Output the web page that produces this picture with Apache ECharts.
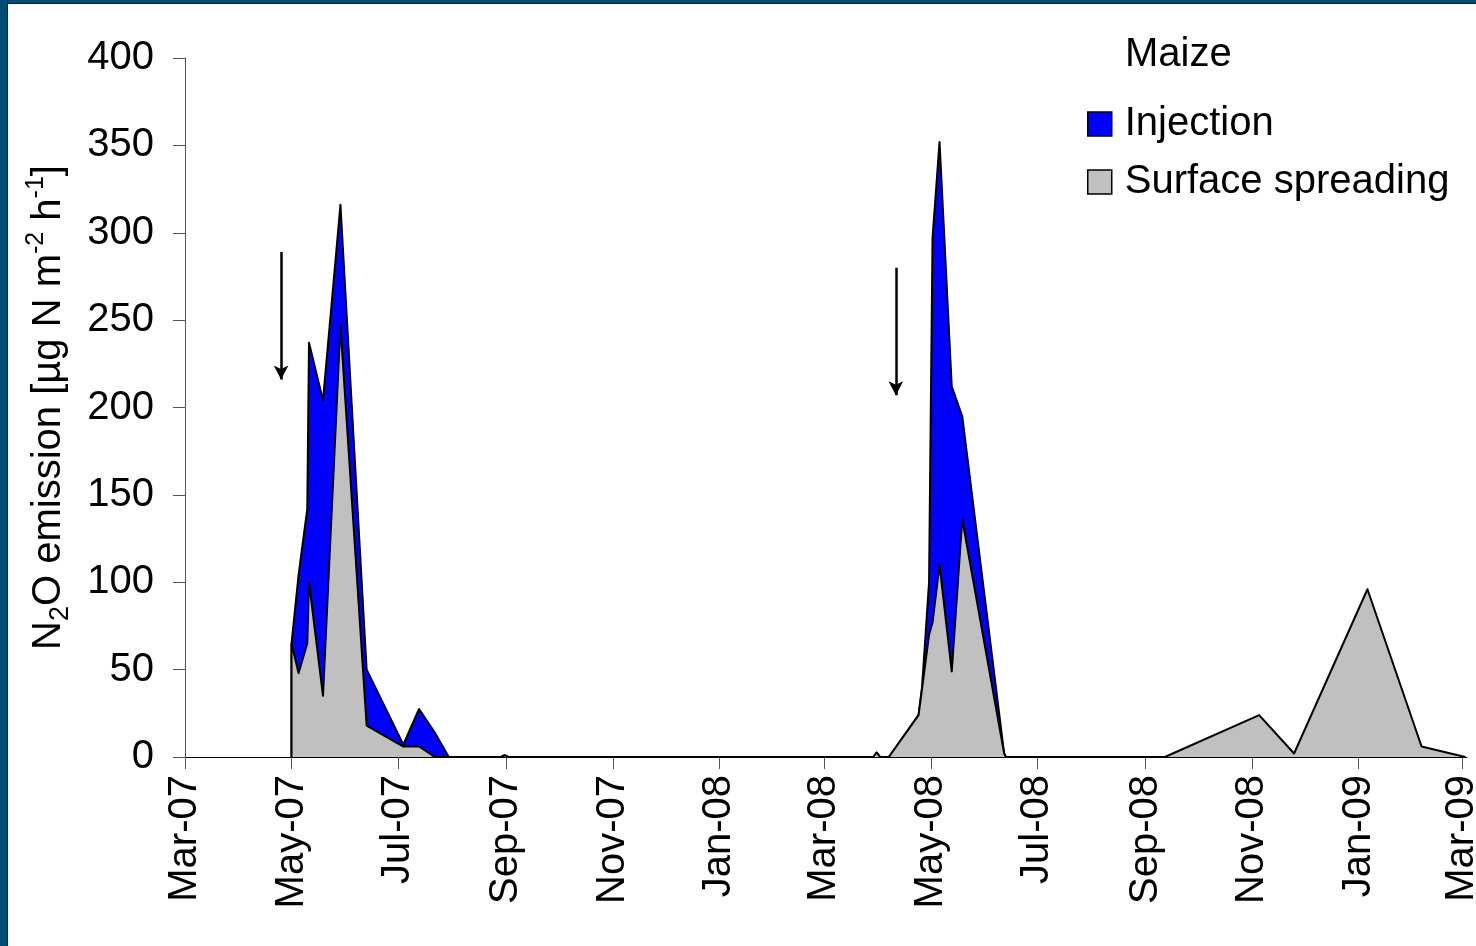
<!DOCTYPE html>
<html><head><meta charset="utf-8">
<script src="https://cdn.jsdelivr.net/npm/echarts@6/dist/echarts.min.js"></script>
<style>
html,body{margin:0;padding:0;background:#fff;overflow:hidden;}
#chart{position:absolute;left:0;top:0;width:1476px;height:946px;}
#bl{position:absolute;left:0;top:0;width:7px;height:946px;background:#004b78;border-right:1px solid #10222f;}
#bt{position:absolute;left:0;top:0;width:1476px;height:3px;background:#004b78;border-bottom:1px solid #10222f;}
</style></head><body>
<div id="chart"></div><div id="bt"></div><div id="bl"></div>
<script>
const tickDates = ['2007-03-01','2007-05-01','2007-07-01','2007-09-01','2007-11-01','2008-01-01','2008-03-01','2008-05-01','2008-07-01','2008-09-01','2008-11-01','2009-01-01','2009-03-01'];
const tickLabels = ['Mar-07','May-07','Jul-07','Sep-07','Nov-07','Jan-08','Mar-08','May-08','Jul-08','Sep-08','Nov-08','Jan-09','Mar-09'];
const yTicks = [0,50,100,150,200,250,300,350,400];

const injectionDates = ['2007-05-01','2007-05-01','2007-05-05','2007-05-10','2007-05-11','2007-05-19','2007-05-29','2007-06-13','2007-07-04','2007-07-13','2007-07-22','2007-07-30','2007-08-29','2007-08-31','2007-09-02','2007-11-28','2007-11-29','2007-11-30','2008-03-29','2008-03-31','2008-04-02','2008-04-07','2008-04-24','2008-04-26','2008-04-30','2008-05-02','2008-05-06','2008-05-13','2008-05-19','2008-06-12','2008-06-13','2009-03-03'];
const injectionValues = [0,65,104,142,237,204,316,50,7,27.5,14,0,0,1,0,0,0.4,0,0,2.5,0,0,24,40,100,297,352,212,195,2,0,0];

const surfaceDates = ['2007-05-01','2007-05-01','2007-05-05','2007-05-10','2007-05-11','2007-05-19','2007-05-29','2007-06-13','2007-07-04','2007-07-13','2007-07-22','2007-07-30','2007-08-29','2007-08-31','2007-09-02','2007-11-28','2007-11-29','2007-11-30','2008-03-29','2008-03-31','2008-04-02','2008-04-07','2008-04-24','2008-04-26','2008-04-30','2008-05-02','2008-05-06','2008-05-13','2008-05-19','2008-06-12','2008-06-13','2008-09-12','2008-11-05','2008-11-25','2009-01-06','2009-02-06','2009-03-03'];
const surfaceValues = [0,65,48,65,100,35,247,18,6,6,0,0,0,1,0,0,0.4,0,0,2.5,0,0,24,39,70,77,110,49,136,2,0,0,24,2,96,6,0];

const arrowDates = ['2007-04-25','2008-04-11'];
const arrowTops = [289,280];
const arrowTips = [216,207];

function ts(s){const p=s.split('-').map(Number);return Date.UTC(p[0],p[1]-1,p[2]);}
const tickTimes = tickDates.map(ts);
const FONT = "'Liberation Sans', Arial, sans-serif";

const chart = echarts.init(document.getElementById('chart'), null, {renderer:'canvas'});
chart.setOption({
  animation:false,
  backgroundColor:'#ffffff',
  textStyle:{fontFamily:FONT},
  title:{text:'Maize',left:1120,top:30,textStyle:{fontFamily:FONT,fontSize:40,fontWeight:'normal',color:'#000',lineHeight:40}},
  legend:{
    orient:'vertical',left:1087,top:104,padding:0,itemWidth:24,itemHeight:24,itemGap:18,icon:'rect',
    textStyle:{fontFamily:FONT,fontSize:40,color:'#000',lineHeight:40,padding:[0,0,0,8]},
    data:[
      {name:'Injection',itemStyle:{color:'#0000ff',borderColor:'#000',borderWidth:1.5}},
      {name:'Surface spreading',itemStyle:{color:'#c0c0c0',borderColor:'#000',borderWidth:1.5}}
    ]
  },
  grid:{left:185,right:9,top:58,bottom:189,outerBoundsMode:'none'},
  xAxis:{
    type:'value',min:ts('2007-03-01'),max:ts('2009-03-04'),scale:true,
    axisLine:{show:true,lineStyle:{color:'#000',width:1}},
    axisTick:{show:true,length:12,lineStyle:{color:'#555',width:1},customValues:tickTimes},
    axisLabel:{show:true,rotate:90,fontSize:40,color:'#000',fontFamily:FONT,margin:18,customValues:tickTimes,
      formatter:function(v){for(let i=0;i<tickTimes.length;i++){if(Math.abs(tickTimes[i]-v)<43200000)return tickLabels[i];}return '';}},
    splitLine:{show:false}
  },
  yAxis:{
    type:'value',min:0,max:400,interval:50,
    name:'{a|N}{sub|2}{a|O emission [µg N m}{sup|-2}{a| h}{sup|-1}{a|]}',
    nameLocation:'middle',nameGap:111,
    nameTextStyle:{padding:[0,0,0,0],rich:{
      a:{fontFamily:FONT,fontSize:40,color:'#000',lineHeight:50},
      sub:{fontFamily:FONT,fontSize:27,color:'#000',lineHeight:27,verticalAlign:'bottom'},
      sup:{fontFamily:FONT,fontSize:25,color:'#000',lineHeight:25,verticalAlign:'top'}
    }},
    axisLine:{show:true,lineStyle:{color:'#555',width:1}},
    axisTick:{show:true,length:12,lineStyle:{color:'#555',width:1}},
    axisLabel:{fontSize:40,color:'#000',fontFamily:FONT,margin:31},
    splitLine:{show:false}
  },
  series:[
    {name:'Injection',type:'line',symbol:'none',color:'#0000ff',
     lineStyle:{color:'#000',width:2,join:'round'},
     areaStyle:{color:'#0000ff',opacity:1},
     data:injectionDates.map((d,i)=>[ts(d),injectionValues[i]]),z:2},
    {name:'Surface spreading',type:'line',symbol:'none',color:'#c0c0c0',
     lineStyle:{color:'#000',width:2,join:'round'},
     areaStyle:{color:'#c0c0c0',opacity:1},
     data:surfaceDates.map((d,i)=>[ts(d),surfaceValues[i]]),z:3,
     markLine:{silent:true,symbol:['none','arrow'],symbolSize:[11,14],
       lineStyle:{color:'#000',width:2.5,type:'solid'},label:{show:false},
       data:arrowDates.map((d,i)=>[{coord:[ts(d),arrowTops[i]]},{coord:[ts(d),arrowTips[i]]}])}
    }
  ]
});
</script>
</body></html>
